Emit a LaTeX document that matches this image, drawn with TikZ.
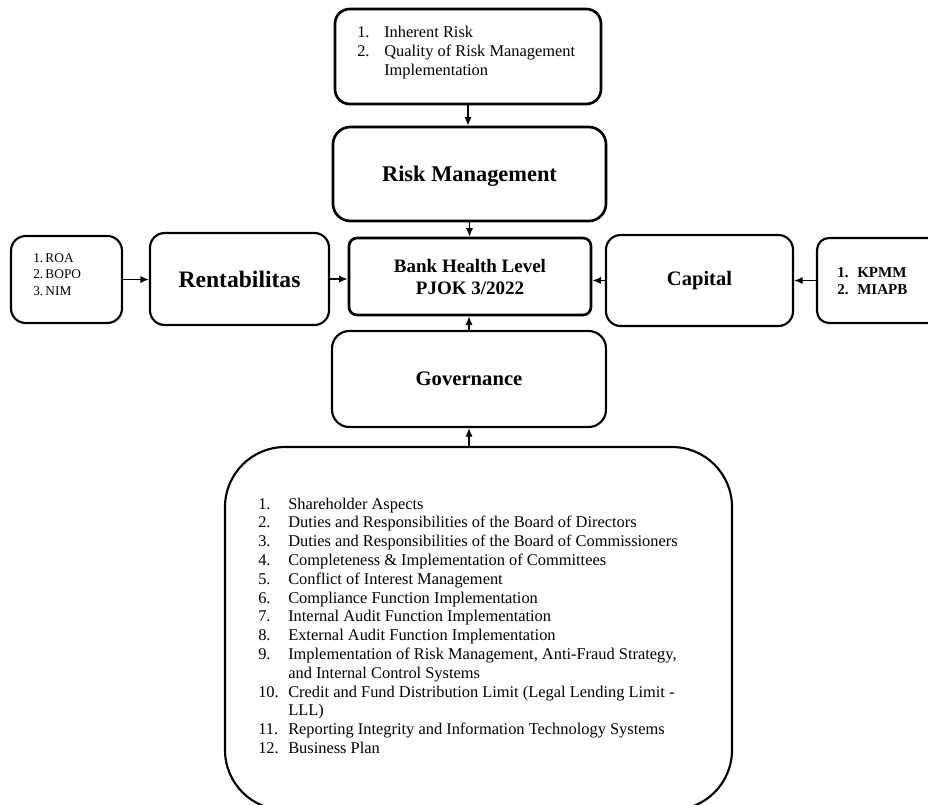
\documentclass[tikz,border=0pt]{standalone}
\usepackage{fontspec}
\setmainfont{Liberation Serif}
\usetikzlibrary{arrows.meta,positioning,calc}

\begin{document}
\begin{tikzpicture}[x=0.75pt,y=-0.75pt,
    card/.style={draw,line width=1.6pt,rounded corners=11pt,inner sep=0pt},
    head/.style={font=\bfseries\fontsize{#1}{#1}\selectfont},
    link/.style={-{Latex[length=6.5pt,width=5.5pt]},line width=1.1pt}]
  \useasboundingbox (0,0) rectangle (928,804);
  %% Risk profile inputs
  \node[card,line width=2pt,minimum width=199.5pt,minimum height=71.25pt]
       (riskin) at (468,56.5){};
  \node[anchor=base west,inner sep=0pt,font=\fontsize{12.3}{14.6}\selectfont]
       (risklist) at (357,37)
       {\begin{tabular}[t]{@{}p{20.25pt}@{}l@{}}
        1. & Inherent Risk\\
        2. & Quality of Risk Management\\
           & Implementation
        \end{tabular}};
  \node[card,line width=2pt,rounded corners=13pt,minimum width=204.75pt,
        minimum height=70.5pt,head=16.8,text depth=-3pt] (riskmgmt) at (469.5,174)
       {Risk Management};
  %% Centre
  \node[card,line width=2pt,rounded corners=6pt,minimum width=181.5pt,
        minimum height=57.75pt,align=center,
        font=\bfseries\fontsize{14.25}{16.5}\selectfont] (bank) at (470,276.5)
       {Bank Health Level\\PJOK 3/2022};
  %% Left side
  \node[card,minimum width=83.25pt,minimum height=65.25pt] (ratio) at (66.5,279.5){};
  \node[anchor=base west,inner sep=0pt,font=\fontsize{10}{12.6}\selectfont]
       (ratiolist) at (33,262)
       {\begin{tabular}[t]{@{}l@{}}
        1.\,ROA\\ 2.\,BOPO\\ 3.\,NIM
        \end{tabular}};
  \node[card,minimum width=134.25pt,minimum height=69pt,head=17.7]
       (rent) at (239.5,279){Rentabilitas};
  %% Right side
  \node[card,minimum width=140.25pt,minimum height=68.25pt,head=15.4]
       (capital) at (699.5,280.5){Capital};
  \node[card,rounded corners=9pt,minimum width=92.25pt,minimum height=63.75pt]
       (capin) at (878.5,280.5){};
  \node[anchor=base west,inner sep=0pt,font=\bfseries\fontsize{11.3}{12.75}\selectfont]
       (caplist) at (837,277)
       {\begin{tabular}[t]{@{}p{15pt}@{}l@{}}
        1. & KPMM\\ 2. & MIAPB
        \end{tabular}};
  %% Governance
  \node[card,rounded corners=13pt,minimum width=205.5pt,minimum height=72pt,
        head=15.5] (gov) at (469,379){Governance};
  \node[card,rounded corners=45pt,minimum width=380.25pt,minimum height=272.25pt]
       (govin) at (478.5,628.5){};
  \node[anchor=base west,inner sep=0pt,font=\fontsize{12.3}{14.1}\selectfont]
       (govlist) at (258,509)
       {\begin{tabular}[t]{@{}p{22.5pt}@{}l@{}}
        1.  & Shareholder Aspects\\
        2.  & Duties and Responsibilities of the Board of Directors\\
        3.  & Duties and Responsibilities of the Board of Commissioners\\
        4.  & Completeness \& Implementation of Committees\\
        5.  & Conflict of Interest Management\\
        6.  & Compliance Function Implementation\\
        7.  & Internal Audit Function Implementation\\
        8.  & External Audit Function Implementation\\
        9.  & Implementation of Risk Management, Anti-Fraud Strategy,\\
            & and Internal Control Systems\\
        10. & Credit and Fund Distribution Limit (Legal Lending Limit -\\
            & LLL)\\
        11. & Reporting Integrity and Information Technology Systems\\
        12. & Business Plan
        \end{tabular}};
  %% Connectors
  \draw[link](riskin.south)--(riskin.south |- riskmgmt.north);
  \draw[link](riskmgmt.south)--(riskmgmt.south |- bank.north);
  \draw[link](ratio.east)--(ratio.east -| rent.west);
  \draw[link](rent.east)--(rent.east -| bank.west);
  \draw[link](capin.west)--(capin.west -| capital.east);
  \draw[link](capital.west)--(capital.west -| bank.east);
  \draw[link](gov.north)--(gov.north |- bank.south);
  \draw[link](gov.south |- govin.north)--(gov.south);
\end{tikzpicture}
\end{document}
